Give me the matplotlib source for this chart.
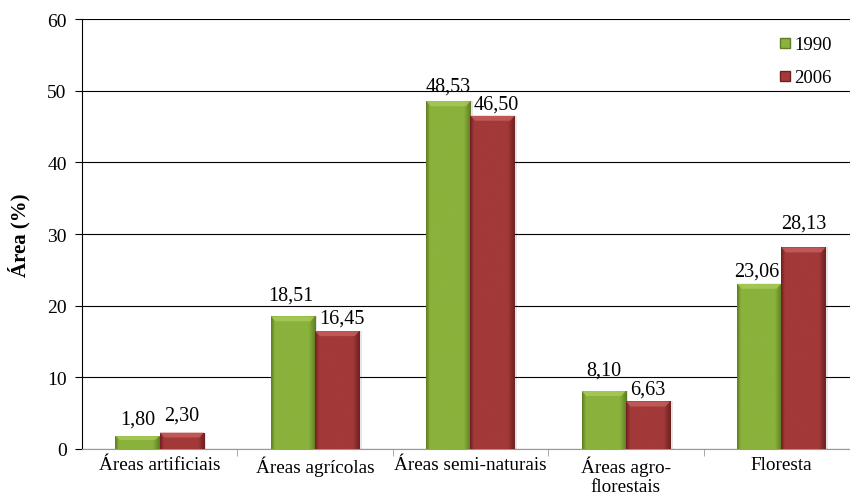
import numpy as np
import matplotlib.pyplot as plt
from matplotlib.colors import LinearSegmentedColormap
from matplotlib.patches import Rectangle, Polygon

plt.rcParams['font.family'] = ['Liberation Serif', 'DejaVu Serif']

categorias = ["Áreas artificiais", "Áreas agrícolas", "Áreas semi-naturais",
              "Áreas agro-\nflorestais", "Floresta"]
area_1990 = [1.80, 18.51, 48.53, 8.10, 23.06]
area_2006 = [2.30, 16.45, 46.50, 6.63, 28.13]
anos = ["1990", "2006"]

# (escuro, médio, claro) para cada série
cores = {"1990": ("#5f7d22", "#8ab23c", "#a9cc5a"),
         "2006": ("#6e2020", "#a33939", "#c86060")}

# deslocamento dos rótulos de valor (px): horizontal e altura acima da barra
dx_1990 = [0, -2, 0, 0, -2]
dx_2006 = [0, 5, 4, 0, 0]
dy_1990 = [13, 17, 11, 16, 8]
dy_2006 = [13, 9, 7, 8, 20]


def barra_bisel(ax, x0, largura, altura, escuro, medio, claro):
    """Barra com bordas escuras e topo mais claro (efeito bisel)."""
    cmap = LinearSegmentedColormap.from_list(
        "b", [(0, escuro), (0.08, medio), (0.85, medio), (1, escuro)])
    grad = np.linspace(0, 1, 64).reshape(1, -1)
    # sombra à direita
    ax.add_patch(Rectangle((x0 + 0.015, 0), largura, altura, facecolor="#000000",
                           alpha=0.10, edgecolor="none", zorder=2))
    rect = Rectangle((x0, 0), largura, altura, facecolor="none", edgecolor="none", zorder=3)
    ax.add_patch(rect)
    im = ax.imshow(grad, cmap=cmap, extent=(x0, x0 + largura, 0, altura),
                   aspect="auto", zorder=3, interpolation="bicubic")
    im.set_clip_path(rect)
    # bisel superior claro
    dy = min(0.7, altura * 0.3)
    dx = 0.03
    ax.add_patch(Polygon([(x0, altura), (x0 + largura, altura),
                          (x0 + largura - dx, altura - dy), (x0 + dx, altura - dy)],
                         closed=True, facecolor=claro, alpha=0.8, edgecolor="none",
                         zorder=4))


def rotulo(ax, xc, valor, dx, dy):
    ax.annotate(f"{valor:.2f}".replace(".", ","), (xc, valor),
                xytext=(dx * 0.72, dy * 0.72), textcoords="offset points",
                ha="center", va="baseline", fontsize=14.5)


fig = plt.figure(figsize=(8.5, 5.02), dpi=100)
# a área do gráfico estende-se um pouco além da margem direita
ax = fig.add_axes([82 / 850, 52 / 502, 777 / 850, 430 / 502])

x = np.arange(len(categorias))
w = 0.285
for i in x:
    barra_bisel(ax, i - w, w, area_1990[i], *cores["1990"])
    barra_bisel(ax, i, w, area_2006[i], *cores["2006"])
    rotulo(ax, i - w / 2, area_1990[i], dx_1990[i], dy_1990[i])
    rotulo(ax, i + w / 2, area_2006[i], dx_2006[i], dy_2006[i])

ax.set_xlim(-0.5, len(categorias) - 0.5)
ax.set_ylim(0, 60)
ax.set_yticks(np.arange(0, 61, 10))
ax.yaxis.grid(True, color="#000000", linewidth=0.8)
ax.set_axisbelow(True)

ax.set_xticks(x)
ax.set_xticklabels(categorias, fontsize=13.8, linespacing=1.15)
ax.set_xticks(np.arange(0.5, len(categorias) - 1, 1), minor=True)
ax.tick_params(axis="x", which="major", length=0, pad=5)
ax.tick_params(axis="x", which="minor", length=5, color="#999999")
ax.tick_params(axis="y", length=5, labelsize=14, width=0.8, pad=6)

for lado in ("top", "right"):
    ax.spines[lado].set_visible(False)
ax.spines["bottom"].set_color("#999999")
ax.spines["left"].set_linewidth(0.8)

ax.set_ylabel("Área (%)", fontsize=15, fontweight="bold", labelpad=12)

marcadores = [plt.Line2D([], [], marker="s", linestyle="none", markersize=7,
                         markerfacecolor=cores[a][1], markeredgecolor=cores[a][0])
              for a in anos]
ax.legend(marcadores, anos, loc="upper right", bbox_to_anchor=(0.9985, 0.96),
          bbox_transform=fig.transFigure, frameon=False,
          fontsize=13.5, handletextpad=0.0, labelspacing=0.85, handlelength=1.0)

fig.savefig("out.png", dpi=100)
